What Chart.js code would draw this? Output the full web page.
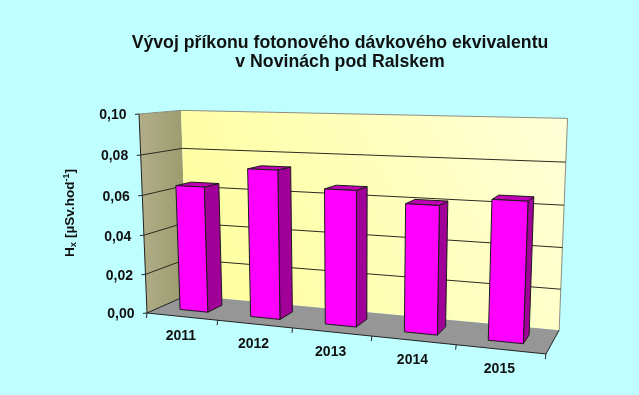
<!DOCTYPE html>
<html>
<head>
<meta charset="utf-8">
<title>Vývoj příkonu</title>
<script src="https://cdn.jsdelivr.net/npm/chart.js@4"></script>
<style>
  html, body { margin: 0; padding: 0; background: #c0ffff; }
  #wrap { width: 639px; height: 395px; }
</style>
</head>
<body>
<div id="wrap"><canvas id="chart"></canvas></div>
<script>
// Data
const years = ['2011', '2012', '2013', '2014', '2015'];
const dose = [0.064, 0.074, 0.066, 0.061, 0.065];
const titleLines = ['Vývoj příkonu fotonového dávkového ekvivalentu', 'v Novinách pod Ralskem'];

const FONT = '"Liberation Sans", Arial, sans-serif';

// ---------- perspective of the 3D box ----------
// u = along categories, v = up the value axis, d = into the depth (all 0..1)
function project(u, v, d) {
    const w = 1 - 0.1386 * u - 0.037 * v + 0.077 * d;
    const x = 147 + 323.3 * u - 13.1 * v + 54.4 * d;
    const y = 313 - 8.1 * u - 203.2 * v + 5 * d;
    return [x / w, y / w];
}

function poly(ctx, pts, fill, stroke) {
    ctx.beginPath();
    pts.forEach((p, i) => i ? ctx.lineTo(p[0], p[1]) : ctx.moveTo(p[0], p[1]));
    ctx.closePath();
    if (fill) { ctx.fillStyle = fill; ctx.fill(); }
    if (stroke) { ctx.strokeStyle = stroke; ctx.lineWidth = 1; ctx.stroke(); }
}

function line(ctx, a, b, color) {
    ctx.beginPath();
    ctx.moveTo(a[0], a[1]);
    ctx.lineTo(b[0], b[1]);
    ctx.strokeStyle = color;
    ctx.lineWidth = 1;
    ctx.stroke();
}

const box3d = {
    id: 'box3d',
    // walls, floor, gridlines and axis lines
    beforeDatasetsDraw(chart) {
        const ctx = chart.ctx;
        const area = chart.chartArea;
        const yScale = chart.scales.y;
        const vOf = val => (area.bottom - yScale.getPixelForValue(val)) / area.height;

        ctx.save();
        // left wall
        let g = ctx.createLinearGradient(139, 0, 187, 0);
        g.addColorStop(0, '#b2ae8a');
        g.addColorStop(1, '#9b9a6c');
        poly(ctx, [project(0, 0, 0), project(0, 1, 0), project(0, 1, 1), project(0, 0, 1)], g);
        // back wall
        g = ctx.createLinearGradient(187, 300, 567, 118);
        g.addColorStop(0, '#ffff9c');
        g.addColorStop(1, '#ffffd8');
        poly(ctx, [project(0, 0, 1), project(0, 1, 1), project(1, 1, 1), project(1, 0, 1)], g);
        // floor
        poly(ctx, [project(0, 0, 0), project(1, 0, 0), project(1, 0, 1), project(0, 0, 1)], '#969696');

        // outer edges of the back wall
        line(ctx, project(0, 1, 0), project(0, 1, 1), '#8c8c80');
        line(ctx, project(0, 1, 1), project(1, 1, 1), '#8c8c80');
        line(ctx, project(1, 1, 1), project(1, 0, 1), '#8c8c80');

        // gridlines
        yScale.ticks.forEach(t => {
            if (t.value === 0 || t.value === yScale.max) return;
            const v = vOf(t.value);
            line(ctx, project(0, v, 0), project(0, v, 1), '#2b2b20');
            line(ctx, project(0, v, 1), project(1, v, 1), '#2b2b20');
        });

        // axis lines
        line(ctx, project(0, 0, 0), project(0, 1, 0), '#222');
        line(ctx, project(0, 0, 0), project(1, 0, 0), '#222');
        line(ctx, project(1, 0, 0), project(1, 0, 1), '#222');
        line(ctx, project(0, 0, 0), project(0, 0, 1), '#222');
        ctx.restore();
    },
    // bars, using the positions the bar controller worked out
    beforeDatasetDraw(chart, args) {
        const ctx = chart.ctx;
        const area = chart.chartArea;
        const meta = chart.getDatasetMeta(args.index);
        const dFront = 0.3, dBack = 0.68;

        ctx.save();
        ctx.lineJoin = 'round';
        meta.data.forEach(bar => {
            const u0 = (bar.x - bar.width / 2 - area.left) / area.width;
            const u1 = (bar.x + bar.width / 2 - area.left) / area.width;
            const v = (area.bottom - bar.y) / area.height;
            poly(ctx, [project(u1, 0, dFront), project(u1, v, dFront), project(u1, v, dBack), project(u1, 0, dBack)], '#a00098', '#1c1c1c');
            poly(ctx, [project(u0, v, dFront), project(u1, v, dFront), project(u1, v, dBack), project(u0, v, dBack)], '#c000b4', '#1c1c1c');
            poly(ctx, [project(u0, 0, dFront), project(u1, 0, dFront), project(u1, v, dFront), project(u0, v, dFront)], '#ff00ff', '#1c1c1c');
        });
        ctx.restore();
        return false;
    },
    // tick marks, tick labels and the axis title
    afterDatasetsDraw(chart) {
        const ctx = chart.ctx;
        const area = chart.chartArea;
        const yScale = chart.scales.y;
        const xScale = chart.scales.x;

        ctx.save();
        ctx.fillStyle = '#111';
        ctx.font = 'bold 14px ' + FONT;
        ctx.textAlign = 'right';
        ctx.textBaseline = 'middle';
        yScale.ticks.forEach(t => {
            const v = (area.bottom - yScale.getPixelForValue(t.value)) / area.height;
            const p = project(0, v, 0);
            line(ctx, [p[0] - 4, p[1] + 0.4], p, '#222');
            ctx.fillText(t.label, p[0] - 12.5, p[1] + 1.5);
        });

        ctx.font = 'bold 14px ' + FONT;
        ctx.textAlign = 'center';
        const step = 1 / years.length;
        for (let i = 0; i <= years.length; i++) {
            const p = project(i * step, 0, 0);
            line(ctx, p, [p[0] - 0.6, p[1] + 5], '#222');
        }
        years.forEach((label, i) => {
            const u = (xScale.getPixelForValue(i) - area.left) / area.width;
            const p = project(u, 0, 0);
            ctx.fillText(label, p[0] - 1, p[1] + 20);
        });

        // rotated axis title with sub- and superscript
        ctx.translate(69.5, 257);
        ctx.rotate(-Math.PI / 2);
        ctx.textAlign = 'left';
        ctx.textBaseline = 'alphabetic';
        const parts = [
            ['H', 13.6, 0],
            ['x', 9.5, 2.5],
            [' [µSv.hod', 13.6, 0],
            ['-1', 9, -5],
            [']', 13.6, 0]
        ];
        let x = 0;
        parts.forEach(p => {
            ctx.font = 'bold ' + p[1] + 'px ' + FONT;
            ctx.fillText(p[0], x, p[2] + 4);
            x += ctx.measureText(p[0]).width;
        });
        ctx.restore();
    }
};

new Chart(document.getElementById('chart'), {
    type: 'bar',
    data: {
        labels: years,
        datasets: [{
            label: 'Hx',
            data: dose,
            backgroundColor: '#ff00ff',
            barPercentage: 0.8,
            categoryPercentage: 0.5
        }]
    },
    options: {
        responsive: true,
        maintainAspectRatio: false,
        animation: false,
        layout: { padding: { left: 41 } },
        plugins: {
            legend: { display: false },
            tooltip: { enabled: false },
            title: {
                display: true,
                text: titleLines,
                color: '#111',
                font: { family: FONT, size: 17.7, weight: 'bold', lineHeight: 1.1 },
                padding: { top: 33, bottom: 40 }
            }
        },
        scales: {
            x: { display: false },
            y: {
                display: false,
                min: 0,
                max: 0.1,
                ticks: {
                    stepSize: 0.02,
                    callback: v => v.toFixed(2).replace('.', ',')
                }
            }
        }
    },
    plugins: [box3d]
});
</script>
</body>
</html>
